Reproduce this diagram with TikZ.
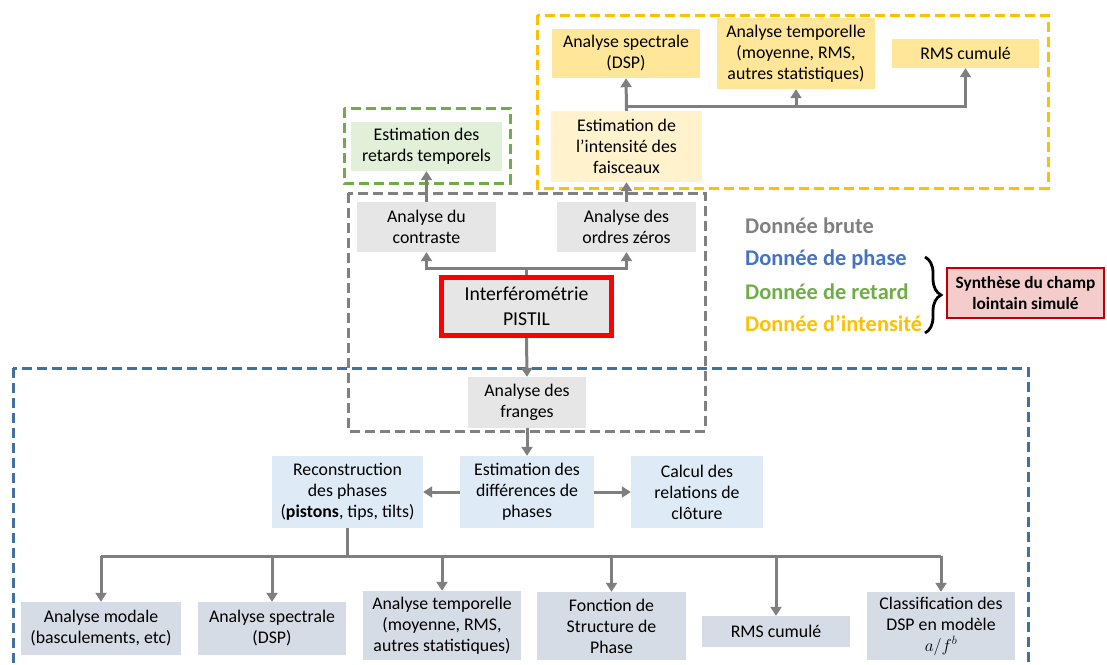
\documentclass[tikz,border=0pt]{standalone}
\usepackage{fontspec}
\setmainfont{Carlito}
\usetikzlibrary{arrows.meta,decorations.pathreplacing}
\definecolor{ylwA}{HTML}{FFE699}
\definecolor{ylwB}{HTML}{FFF2CC}
\definecolor{grnA}{HTML}{E2F0D9}
\definecolor{gryA}{HTML}{E7E6E6}
\definecolor{bluA}{HTML}{DEEBF7}
\definecolor{bluB}{HTML}{D6DCE5}
\definecolor{arrgray}{HTML}{7F7F7F}
\definecolor{dgray}{HTML}{808080}
\definecolor{dblue}{HTML}{41719C}
\definecolor{dgreen}{HTML}{70AD47}
\definecolor{dgold}{HTML}{FFC000}
\definecolor{lblue}{HTML}{4472C4}
\definecolor{synfill}{HTML}{F4CCCC}
\definecolor{synline}{HTML}{C00000}
\begin{document}
\begin{tikzpicture}[x=1pt,y=-1pt,
  box/.style={inner sep=0pt, align=center, font=\fontsize{17.8}{21}\selectfont},
  dbox/.style={line width=3pt, dash pattern=on 10pt off 5pt},
  conn/.style={draw=arrgray, line width=3pt},
  arr/.style={draw=arrgray, line width=3pt, -{Triangle[width=11pt,length=9pt]}},
  legend/.style={anchor=west, inner sep=0pt, font=\fontsize{22.4}{26}\selectfont\bfseries}]
\useasboundingbox (0,0) rectangle (1107,664);

% dashed regions
\begin{scope}
\clip (0,0) rectangle (1107,664);
\draw[dbox, draw=dblue] (13,368) rectangle (1028,720);
\end{scope}
\draw[dbox, draw=dgold] (537,15) rectangle (1048,188);
\draw[dbox, draw=dgreen] (344,108) rectangle (510,183);
\draw[dbox, draw=dgray] (348,193) rectangle (705,431);

% nodes: intensity group
\node[box, fill=ylwA, minimum width=148pt, minimum height=49pt] (dspy) at (626,53.5) {Analyse spectrale\\(DSP)};
\node[box, fill=ylwA, minimum width=158pt, minimum height=71pt] (tmpy) at (796,53.5) {Analyse temporelle\\(moyenne, RMS,\\autres statistiques)};
\node[box, fill=ylwA, minimum width=147pt, minimum height=29pt] (rmsy) at (965.5,53.5) {RMS cumulé};
\node[box, fill=ylwB, minimum width=151pt, minimum height=71pt] (esti) at (626.5,146.5) {Estimation de\\l’intensité des\\faisceaux};

% delay
\node[box, fill=grnA, minimum width=151pt, minimum height=49pt] (ret) at (426.5,146.5) {Estimation des\\retards temporels};

% raw data group
\node[box, fill=gryA, minimum width=139pt, minimum height=50pt] (contr) at (426.5,227) {Analyse du\\contraste};
\node[box, fill=gryA, minimum width=139pt, minimum height=50pt] (ordres) at (626.5,227) {Analyse des\\ordres zéros};
\node[box, fill=gryA, draw=red, line width=5pt, minimum width=170pt, minimum height=58pt,
      font=\fontsize{19.7}{25}\selectfont] (interf) at (526.5,306.5) {Interférométrie\\PISTIL};
\node[box, fill=gryA, minimum width=118pt, minimum height=51pt] (franges) at (527,402.5) {Analyse des\\franges};

% phase group
\node[box, fill=bluA, minimum width=134pt, minimum height=72pt] (diff) at (527,492) {Estimation des\\différences de\\phases};
\node[box, fill=bluA, minimum width=151pt, minimum height=72pt] (recon) at (347.5,492) {Reconstruction\\des phases\\(\textbf{pistons}, tips, tilts)};
\node[box, fill=bluA, minimum width=132pt, minimum height=72pt] (calc) at (697,492) {Calcul des\\relations de\\clôture};

\node[box, fill=bluB, minimum width=160pt, minimum height=53pt] (modale) at (101,628.5) {Analyse modale\\(basculements, etc)};
\node[box, fill=bluB, minimum width=148pt, minimum height=53pt] (specb) at (272,628.5) {Analyse spectrale\\(DSP)};
\node[box, fill=bluB, minimum width=158pt, minimum height=69pt] (tempb) at (442,625.5) {Analyse temporelle\\(moyenne, RMS,\\autres statistiques)};
\node[box, fill=bluB, minimum width=149pt, minimum height=68pt] (fsp) at (611.5,626) {Fonction de\\Structure de\\Phase};
\node[box, fill=bluB, minimum width=148pt, minimum height=31pt] (rmsb) at (776,631.5) {RMS cumulé};
\node[box, fill=bluB, minimum width=148pt, minimum height=68pt] (classif) at (941,626) {Classification des\\DSP en modèle\\$a/f^b$};

% legend
\node[legend, text=dgray] (lg1) at (745,226) {Donnée brute};
\node[legend, text=lblue] (lg2) at (745,259) {Donnée de phase};
\node[legend, text=dgreen] (lg3) at (745,292) {Donnée de retard};
\node[legend, text=dgold] (lg4) at (745,323) {Donnée d’intensité};
\coordinate (bt) at (925,257);
\coordinate (bb) at (925,333);
\draw[decorate, decoration={brace, amplitude=16pt}, line width=2.8pt] (bt) -- (bb);
\node[inner sep=0pt, align=center, fill=synfill, draw=synline, line width=2.5pt,
      minimum width=157pt, minimum height=50pt, font=\fontsize{17.3}{21}\selectfont\bfseries]
      (syn) at (1025.5,293) {Synthèse du champ\\lointain simulé};

% connectors
\coordinate (j1) at (526.5,268);
\coordinate (j2) at (626.5,106);
\coordinate (j3) at (347.5,556);
\draw[conn] (interf.north) -- (j1);
\draw[arr] (j1) -| (contr.south);
\draw[arr] (j1) -| (ordres.south);
\draw[arr] (contr.north) -- (ret.south);
\draw[arr] (ordres.north) -- (esti.south);
\draw[arr] (esti.north) -- (dspy.south);
\draw[arr] (j2) -| (rmsy.south);
\draw[arr] (j2 -| tmpy.south) -- (tmpy.south);
\draw[arr] (interf.south) -- (franges.north);
\draw[arr] (franges.south) -- (diff.north);
\draw[arr] (diff.west) -- (recon.east);
\draw[arr] (diff.east) -- (calc.west);
\draw[conn] (recon.south) -- (j3);
\draw[conn] (j3 -| modale.north) -- (j3 -| classif.north);
\draw[arr] (j3 -| modale.north) -- (modale.north);
\draw[arr] (j3 -| specb.north) -- (specb.north);
\draw[arr] (j3 -| tempb.north) -- (tempb.north);
\draw[arr] (j3 -| fsp.north) -- (fsp.north);
\draw[arr] (j3 -| rmsb.north) -- (rmsb.north);
\draw[arr] (j3 -| classif.north) -- (classif.north);
\end{tikzpicture}
\end{document}
